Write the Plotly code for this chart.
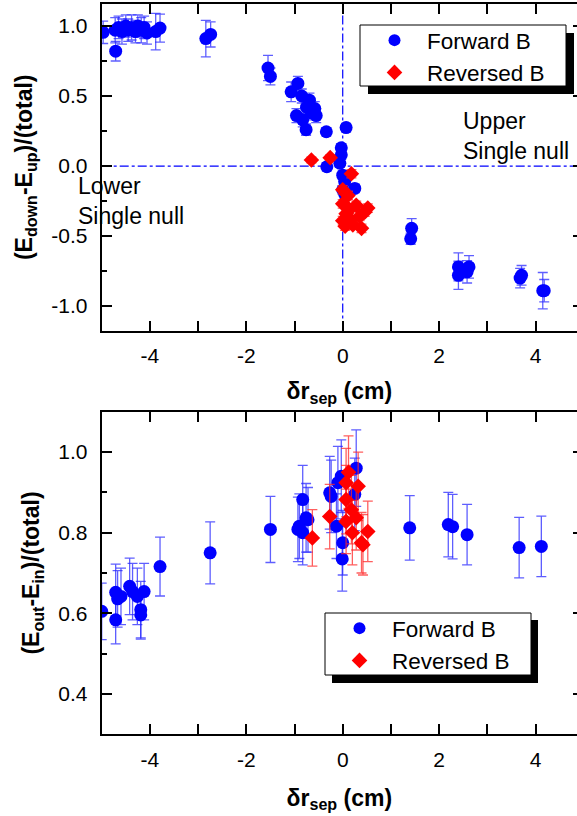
import plotly.graph_objects as go

# ---------------- data: top panel (E_down - E_up)/total ----------------
top_fwd_x = [-4.97, -4.71, -4.72, -4.65, -4.58, -4.50, -4.45, -4.38, -4.30, -4.25, -4.18, -4.12, -4.06,
             -3.88, -3.79, -2.84, -2.74, -1.55, -1.50,
             -1.07, -0.93, -0.85, -0.69, -0.75, -0.58, -0.55, -0.96, -0.83, -0.65, -0.76, -0.34,
             0.07, -0.03, -0.03, -0.06, -0.33, 0.00, 0.04, 0.00, 0.25, 0.04,
             1.43, 1.41, 2.40, 2.40, 2.58, 2.62, 3.68, 3.71, 4.15, 4.18]
top_fwd_y = [0.955, 0.82, 0.97, 0.99, 0.96, 1.00, 0.97, 0.99, 0.96, 1.00, 0.97, 0.99, 0.95,
             0.96, 0.985, 0.91, 0.94, 0.70, 0.64,
             0.53, 0.59, 0.50, 0.47, 0.42, 0.41, 0.36, 0.36, 0.33, 0.38, 0.26, 0.245,
             0.275, 0.13, 0.08, 0.02, -0.005, -0.065, -0.11, -0.17, -0.16, -0.20,
             -0.445, -0.52, -0.72, -0.78, -0.755, -0.72, -0.80, -0.78, -0.89, -0.89]
top_fwd_err = [0.08, 0.07, 0.09, 0.08, 0.09, 0.08, 0.08, 0.09, 0.08, 0.08, 0.09, 0.08, 0.08,
               0.13, 0.10, 0.13, 0.09, 0.09, 0.06,
               0.07, 0.05, 0.05, 0.05, 0.05, 0.05, 0.05, 0.05, 0.05, 0.05, 0.04, 0.03,
               0.03, 0.03, 0.03, 0.03, 0.03, 0.03, 0.03, 0.03, 0.03, 0.03,
               0.07, 0.04, 0.10, 0.10, 0.08, 0.08, 0.07, 0.07, 0.13, 0.08]

top_rev_x = [-0.65, -0.26, 0.18, 0.00, 0.11, 0.00, 0.14, 0.52, 0.35, 0.00, 0.21, 0.39, 0.07, 0.28, 0.455, 0.05, 0.15]
top_rev_y = [0.043, 0.06, -0.055, -0.17, -0.21, -0.27, -0.31, -0.30, -0.36, -0.39, -0.42, -0.445, -0.34, -0.28, -0.33, -0.43, -0.38]
top_rev_err = [0.02, 0.02, 0.03, 0.03, 0.03, 0.03, 0.03, 0.03, 0.03, 0.03, 0.03, 0.03, 0.03, 0.03, 0.03, 0.03, 0.03]

# ---------------- data: bottom panel (E_out - E_in)/total ----------------
bot_fwd_x = [-5.00, -4.71, -4.71, -4.67, -4.60, -4.42, -4.36, -4.26, -4.19, -4.19, -4.12,
             -3.79, -2.75, -1.50, -0.93, -0.90, -0.83, -0.83, -0.76, -0.72,
             -0.24, -0.27, -0.13, -0.03, 0.00, -0.01, 0.28, 0.25, -0.10,
             1.39, 2.19, 2.28, 2.58, 3.66, 4.12]
bot_fwd_y = [0.605, 0.584, 0.652, 0.636, 0.642, 0.667, 0.654, 0.642, 0.609, 0.596, 0.654,
             0.716, 0.750, 0.808, 0.808, 0.816, 0.882, 0.800, 0.837, 0.832,
             0.890, 0.899, 0.816, 0.940, 0.775, 0.735, 0.960, 0.895, 0.924,
             0.812, 0.820, 0.815, 0.795, 0.763, 0.766]
bot_fwd_err = [0.07, 0.06, 0.07, 0.07, 0.07, 0.07, 0.07, 0.07, 0.07, 0.06, 0.07,
               0.073, 0.077, 0.082, 0.08, 0.08, 0.085, 0.08, 0.085, 0.08,
               0.09, 0.09, 0.08, 0.09, 0.08, 0.08, 0.095, 0.09, 0.09,
               0.08, 0.08, 0.08, 0.075, 0.075, 0.075]

bot_rev_x = [-0.63, -0.27, 0.07, 0.32, 0.07, 0.18, 0.28, 0.07, 0.52, 0.39, 0.42, 0.12, 0.20]
bot_rev_y = [0.787, 0.840, 0.924, 0.915, 0.882, 0.857, 0.837, 0.828, 0.803, 0.775, 0.770, 0.950, 0.800]
bot_rev_err = [0.07, 0.08, 0.085, 0.085, 0.085, 0.085, 0.08, 0.08, 0.075, 0.075, 0.075, 0.09, 0.08]

# ---------------- tick labels ----------------
x_tickvals = [-4, -2, 0, 2, 4]
x_ticktext = ["-4", "-2", "0", "2", "4"]
ytop_tickvals = [-1.0, -0.5, 0.0, 0.5, 1.0]
ytop_ticktext = ["-1.0", "-0.5", "0.0", "0.5", "1.0"]
ybot_tickvals = [0.4, 0.6, 0.8, 1.0]
ybot_ticktext = ["0.4", "0.6", "0.8", "1.0"]

W, H = 577, 816
FONT = "Liberation Sans, Arial, sans-serif"
BLUE = "#0000ff"
RED = "#ff0000"
EB_BLUE = "rgba(40,40,255,0.75)"
EB_RED = "rgba(255,40,40,0.75)"


def px(x):
    return x / W


def py(y):
    return 1 - y / H


fig = go.Figure()

# top panel
fig.add_trace(go.Scatter(x=top_fwd_x, y=top_fwd_y, mode="markers", name="Forward B",
                         marker=dict(symbol="circle", size=13, color=BLUE),
                         error_y=dict(type="data", array=top_fwd_err, color=EB_BLUE, thickness=1.3, width=5),
                         xaxis="x", yaxis="y", legend="legend"))
fig.add_trace(go.Scatter(x=top_rev_x, y=top_rev_y, mode="markers", name="Reversed B",
                         marker=dict(symbol="diamond", size=12, color=RED),
                         error_y=dict(type="data", array=top_rev_err, color=EB_RED, thickness=1.3, width=5),
                         xaxis="x", yaxis="y", legend="legend"))
# bottom panel
fig.add_trace(go.Scatter(x=bot_fwd_x, y=bot_fwd_y, mode="markers", name="Forward B",
                         marker=dict(symbol="circle", size=13, color=BLUE),
                         error_y=dict(type="data", array=bot_fwd_err, color=EB_BLUE, thickness=1.3, width=5),
                         xaxis="x2", yaxis="y2", legend="legend2"))
fig.add_trace(go.Scatter(x=bot_rev_x, y=bot_rev_y, mode="markers", name="Reversed B",
                         marker=dict(symbol="diamond", size=12, color=RED),
                         error_y=dict(type="data", array=bot_rev_err, color=EB_RED, thickness=1.3, width=5),
                         xaxis="x2", yaxis="y2", legend="legend2"))
# dummy traces for right-side tick axes
fig.add_trace(go.Scatter(x=[None], y=[None], xaxis="x", yaxis="y3", showlegend=False, hoverinfo="skip"))
fig.add_trace(go.Scatter(x=[None], y=[None], xaxis="x2", yaxis="y4", showlegend=False, hoverinfo="skip"))

XDOM = [px(101.7), 1.0]
TOPDOM = [py(330.6), py(4)]
BOTDOM = [py(734.3), py(411.7)]
XR = [-5.0, 4.86]
YTR = [-1.175, 1.157]
YBR = [0.3, 1.1]

tickfont = dict(family=FONT, size=21, color="black")
titlefont = dict(family=FONT, size=23, color="black")
LEGFONT = dict(family=FONT, size=22.5, color="black")

xcommon = dict(range=XR, domain=XDOM, showgrid=False, zeroline=False, showline=True, linecolor="black",
               linewidth=2, mirror="allticks", ticks="inside", ticklen=10, tickwidth=1.5, tickcolor="black",
               tickvals=x_tickvals, ticktext=x_ticktext, tickfont=tickfont, ticklabelstandoff=5,
               minor=dict(ticks="inside", ticklen=5, tickwidth=1.5, tickcolor="black", dtick=1, tick0=0,
                          showgrid=False))
ycommon = dict(showgrid=False, zeroline=False, showline=True, linecolor="black", linewidth=2, mirror=False,
               ticks="inside", ticklen=10, tickwidth=1.5, tickcolor="black", tickfont=tickfont,
               ticklabelstandoff=8)

fig.update_layout(
    width=W, height=H, autosize=False,
    margin=dict(l=0, r=0, t=0, b=0),
    paper_bgcolor="white", plot_bgcolor="white",
    font=dict(family=FONT, color="black"),
    xaxis=dict(anchor="y", title=dict(text="<b>δr<sub>sep</sub> (cm)</b>", font=titlefont, standoff=17),
               **xcommon),
    xaxis2=dict(anchor="y2", title=dict(text="<b>δr<sub>sep</sub> (cm)</b>", font=titlefont, standoff=20),
                **xcommon),
    yaxis=dict(anchor="x", domain=TOPDOM, range=YTR, tickvals=ytop_tickvals, ticktext=ytop_ticktext,
               minor=dict(ticks="inside", ticklen=5, tickwidth=1.5, tickcolor="black", dtick=0.25, tick0=0,
                          showgrid=False),
               title=dict(text="<b>(E<sub>down</sub>-E<sub>up</sub>)/(total)</b>", font=titlefont, standoff=12),
               **ycommon),
    yaxis2=dict(anchor="x2", domain=BOTDOM, range=YBR, tickvals=ybot_tickvals, ticktext=ybot_ticktext,
                minor=dict(ticks="inside", ticklen=5, tickwidth=1.5, tickcolor="black", dtick=0.1, tick0=0,
                           showgrid=False),
                title=dict(text="<b>(E<sub>out</sub>-E<sub>in</sub>)/(total)</b>", font=titlefont, standoff=12),
                **ycommon),
    yaxis3=dict(overlaying="y", anchor="x", side="right", range=YTR, tickvals=ytop_tickvals,
                showticklabels=False, showline=False, showgrid=False, zeroline=False,
                ticks="inside", ticklen=4, tickwidth=1.5, tickcolor="black"),
    yaxis4=dict(overlaying="y2", anchor="x2", side="right", range=YBR, tickvals=ybot_tickvals,
                showticklabels=False, showline=False, showgrid=False, zeroline=False,
                ticks="inside", ticklen=4, tickwidth=1.5, tickcolor="black"),
    legend=dict(x=px(362), y=py(19), xanchor="left", yanchor="top", bgcolor="rgba(0,0,0,0)",
                borderwidth=0, font=LEGFONT,
                itemwidth=55, tracegroupgap=0, itemsizing="constant"),
    legend2=dict(x=px(327), y=py(607), xanchor="left", yanchor="top", bgcolor="rgba(0,0,0,0)",
                 borderwidth=0, font=LEGFONT,
                 itemwidth=55, tracegroupgap=0, itemsizing="constant"),
    showlegend=True,
)

# dash-dot reference lines in top panel
fig.add_shape(type="line", xref="x", yref="y domain", x0=0, x1=0, y0=0, y1=1,
              line=dict(color=BLUE, width=1.2, dash="dashdot"), layer="below")
fig.add_shape(type="line", xref="x domain", yref="y", x0=0, x1=1, y0=0, y1=0,
              line=dict(color=BLUE, width=1.2, dash="dashdot"), layer="below")

# legend frames with drop shadows
fig.add_shape(type="rect", xref="paper", yref="paper", x0=px(368), x1=px(574), y0=py(94), y1=py(33),
              fillcolor="black", line=dict(width=0), layer="above")
fig.add_shape(type="rect", xref="paper", yref="paper", x0=px(360), x1=px(566), y0=py(86), y1=py(25),
              fillcolor="white", line=dict(color="black", width=1), layer="above")
fig.add_shape(type="rect", xref="paper", yref="paper", x0=px(332), x1=px(538), y0=py(683), y1=py(620),
              fillcolor="black", line=dict(width=0), layer="above")
fig.add_shape(type="rect", xref="paper", yref="paper", x0=px(325), x1=px(531), y0=py(675), y1=py(613),
              fillcolor="white", line=dict(color="black", width=1), layer="above")

# region annotations
fig.add_annotation(text="Upper<br>Single null", xref="paper", yref="paper", x=px(461), y=py(106),
                   xanchor="left", yanchor="top", align="left", showarrow=False,
                   font=dict(family=FONT, size=23, color="black"))
fig.add_annotation(text="Lower<br>Single null", xref="paper", yref="paper", x=px(76), y=py(171),
                   xanchor="left", yanchor="top", align="left", showarrow=False,
                   font=dict(family=FONT, size=23, color="black"))

fig.write_html("out.html", config={"displayModeBar": False},
               post_script="document.body.style.margin='0';document.body.style.padding='0';")
